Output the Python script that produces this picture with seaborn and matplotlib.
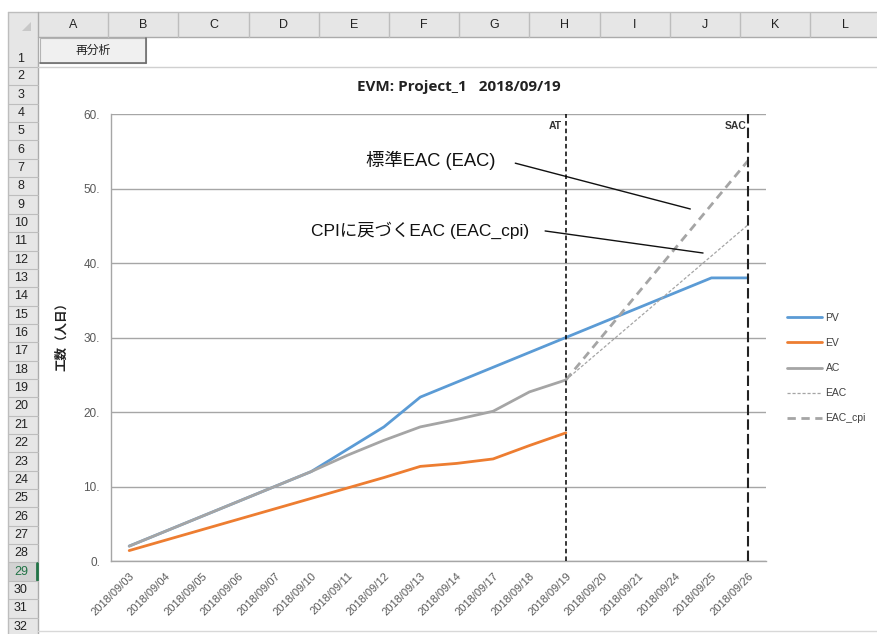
import numpy as np
import pandas as pd
import matplotlib
matplotlib.use("Agg")
import matplotlib.pyplot as plt
from matplotlib.patches import Rectangle, Polygon
import seaborn as sns

# ---------------- data ----------------
dates = ['2018/09/03', '2018/09/04', '2018/09/05', '2018/09/06', '2018/09/07',
         '2018/09/10', '2018/09/11', '2018/09/12', '2018/09/13', '2018/09/14',
         '2018/09/17', '2018/09/18', '2018/09/19', '2018/09/20', '2018/09/21',
         '2018/09/24', '2018/09/25', '2018/09/26']
nan = np.nan
pv = [2, 4, 6, 8, 10, 12, 15, 18, 22, 24, 26, 28, 30, 32, 34, 36, 38, 38]
ev = [1.4, 2.8, 4.2, 5.6, 7.0, 8.4, 9.8, 11.2, 12.7, 13.1, 13.7, 15.5, 17.2,
      nan, nan, nan, nan, nan]
ac = [2, 4, 6, 8, 10, 12, 14.2, 16.2, 18, 19, 20.1, 22.7, 24.3,
      nan, nan, nan, nan, nan]
eac = [nan] * 12 + [24.3, nan, nan, nan, nan, 45.1]
eac_cpi = [nan] * 12 + [24.3, nan, nan, nan, nan, 53.7]
y_ticks = [0, 10, 20, 30, 40, 50, 60]
y_tick_labels = ['0.', '10.', '20.', '30.', '40.', '50.', '60.']
series_names = ['PV', 'EV', 'AC', 'EAC', 'EAC_cpi']
at_date = '2018/09/19'
sac_date = '2018/09/26'
title = 'EVM: Project_1   2018/09/19'
ylabel = '工数（人日）'
note1 = '標準EAC (EAC)'
note2 = 'CPIに戻づくEAC (EAC_cpi)'
col_letters = list('ABCDEFGHIJKL')

df = pd.DataFrame({'idx': np.arange(len(dates)), 'date': dates, 'PV': pv, 'EV': ev,
                   'AC': ac, 'EAC': eac, 'EAC_cpi': eac_cpi})

sns.set_style("white")
plt.rcParams['font.family'] = ['Liberation Sans', 'Noto Sans CJK JP', 'DejaVu Sans']

W, H = 878, 634
fig = plt.figure(figsize=(W / 100, H / 100), dpi=100)

# ---------------- spreadsheet chrome ----------------
bg = fig.add_axes([0, 0, 1, 1], zorder=0)
bg.set_xlim(0, W)
bg.set_ylim(H, 0)
bg.axis('off')
hdr_fc = '#e6e6e6'
hdr_ec = '#bdbdbd'
bg.add_patch(Rectangle((8, 12), W - 8, 25, fc=hdr_fc, ec='none'))
bg.add_patch(Rectangle((8, 12), 30, H - 12, fc=hdr_fc, ec='none'))
bg.plot([8, W], [12, 12], color=hdr_ec, lw=1)
bg.plot([8, 8], [12, H], color=hdr_ec, lw=1)
bg.plot([38, W], [37, 37], color='#ababab', lw=1)
bg.plot([38, 38], [12, H], color='#ababab', lw=1)
bg.add_patch(Polygon([[31, 22], [31, 31], [22, 31]], closed=True, fc='#c8c8c8', ec='none'))
col_w = 70.2
for k, letter in enumerate(col_letters):
    x0 = 38 + k * col_w
    bg.plot([x0 + col_w, x0 + col_w], [13, 37], color=hdr_ec, lw=1)
    bg.text(x0 + col_w / 2, 25, letter, ha='center', va='center', fontsize=9, color='#222222')
# rows
row_bounds = [37, 67] + [67 + 18.35 * k for k in range(1, 32)]
for r in range(1, 33):
    top = row_bounds[r - 1]
    bot = row_bounds[r] if r < len(row_bounds) else top + 18.35
    if r == 29:
        bg.add_patch(Rectangle((8.5, top), 29, bot - top, fc='#d2d2d2', ec='none'))
        bg.plot([37, 37], [top + 1, bot - 1], color='#217346', lw=2)
        col = '#217346'
    else:
        col = '#222222'
    bg.plot([8, 38], [bot, bot], color=hdr_ec, lw=0.8)
    ty = bot - 8 if r == 1 else (top + bot) / 2
    bg.text(21, ty, str(r), ha='center', va='center', fontsize=9, color=col)
bg.plot([38, W], [67, 67], color='#d0d0d0', lw=1)
bg.plot([38, W], [631, 631], color='#d8d8d8', lw=1)
# button
bg.add_patch(Rectangle((40, 38), 106, 25, fc='#f0f0f0', ec='#b4b4b4', lw=0.8))
bg.plot([40, 146], [63, 63], color='#6e6e6e', lw=1.2)
bg.plot([146, 146], [38, 63], color='#6e6e6e', lw=1.2)
bg.text(93, 50, '再分析', ha='center', va='center', fontsize=8.5,
        family=['Noto Sans CJK JP', 'DejaVu Sans'], color='#222222')

# ---------------- chart ----------------
ax = fig.add_axes([111 / W, 1 - 561 / H, 655 / W, 447 / H], zorder=2)
ax.patch.set_alpha(0)

blue, orange, gray = '#5B9BD5', '#ED7D31', '#A5A5A5'
styles = {
    'PV': dict(color=blue, lw=2.0, ls='-'),
    'EV': dict(color=orange, lw=2.0, ls='-'),
    'AC': dict(color=gray, lw=2.0, ls='-'),
    'EAC': dict(color=gray, lw=0.9, ls=(0, (2.5, 1.5))),
    'EAC_cpi': dict(color=gray, lw=2.0, ls=(0, (3, 2))),
}
for name in series_names:
    sub = df[['idx', name]].dropna()
    st = styles[name]
    sns.lineplot(data=sub, x='idx', y=name, ax=ax, color=st['color'], linewidth=st['lw'],
                 linestyle=st['ls'], label=name, zorder=3)

ax.set_xlim(-0.5, len(dates) - 0.5)
ax.set_ylim(0, 60)

# AT / SAC lines
at_i = dates.index(at_date)
sac_i = dates.index(sac_date)
ax.axvline(at_i, color='black', lw=1.1, ls=(0, (3, 2)), zorder=4)
ax.axvline(sac_i, color='#222222', lw=1.5, ls=(0, (5, 2)), zorder=4)
ax.text(at_i - 0.1, 58.4, 'AT', ha='right', va='center', fontsize=7.5, fontweight='bold',
        color='#333333')
ax.text(sac_i - 0.05, 58.4, 'SAC', ha='right', va='center', fontsize=7.5, fontweight='bold',
        color='#333333')

# annotations
ax.text(8.29, 53.8, note1, ha='center', va='center', fontsize=13.2, color='#111111')
ax.annotate('', xy=(15.42, 47.25), xytext=(10.61, 53.4),
            arrowprops=dict(arrowstyle='-', color='#111111', lw=1.0, shrinkA=0, shrinkB=0))
ax.text(7.99, 44.4, note2, ha='center', va='center', fontsize=12.5, color='#111111')
ax.annotate('', xy=(15.77, 41.34), xytext=(11.43, 44.3),
            arrowprops=dict(arrowstyle='-', color='#111111', lw=1.0, shrinkA=0, shrinkB=0))

# axes styling
ax.set_xticks(np.arange(len(dates)))
ax.set_xticklabels(dates, rotation=45, ha='right', rotation_mode='anchor',
                   fontsize=8, color='#595959')
ax.set_xticks(np.arange(-0.5, len(dates), 1), minor=True)
ax.tick_params(axis='x', which='major', length=0, pad=7)
ax.tick_params(axis='x', which='minor', length=5, color='#a6a6a6', width=1, direction='out')
ax.set_yticks(y_ticks)
ax.set_yticklabels(y_tick_labels, fontsize=8.5, color='#595959')
ax.tick_params(axis='y', length=4, color='#a6a6a6', width=1, direction='out', pad=4)
ax.yaxis.grid(True, color='#a6a6a6', lw=1.0)
ax.xaxis.grid(False)
ax.set_axisbelow(True)
for s in ['top', 'right']:
    ax.spines[s].set_visible(False)
for s in ['left', 'bottom']:
    ax.spines[s].set_color('#a6a6a6')
    ax.spines[s].set_linewidth(1.0)
ax.set_xlabel('')
ax.set_ylabel(ylabel, fontsize=9, fontweight='bold', color='#222222',
              family=['Noto Sans CJK JP', 'DejaVu Sans'])
ax.yaxis.set_label_coords((68 - 111) / 655, (561 - 333) / 447)

handles, labels = ax.get_legend_handles_labels()
ax.get_legend().remove()
fig.legend(handles, labels, loc='upper left', bbox_to_anchor=(787 / W, 1 - 313 / H),
           frameon=False, fontsize=7.5, handlelength=3.4, handletextpad=0.3,
           labelspacing=1.45, borderpad=0, borderaxespad=0, labelcolor='#404040')

fig.text(459 / W, 1 - 87 / H, title, ha='center', va='center', fontsize=11,
         fontweight='bold', family=['Open Sans', 'DejaVu Sans'], color='#222222')

fig.savefig('out.png', dpi=100)
